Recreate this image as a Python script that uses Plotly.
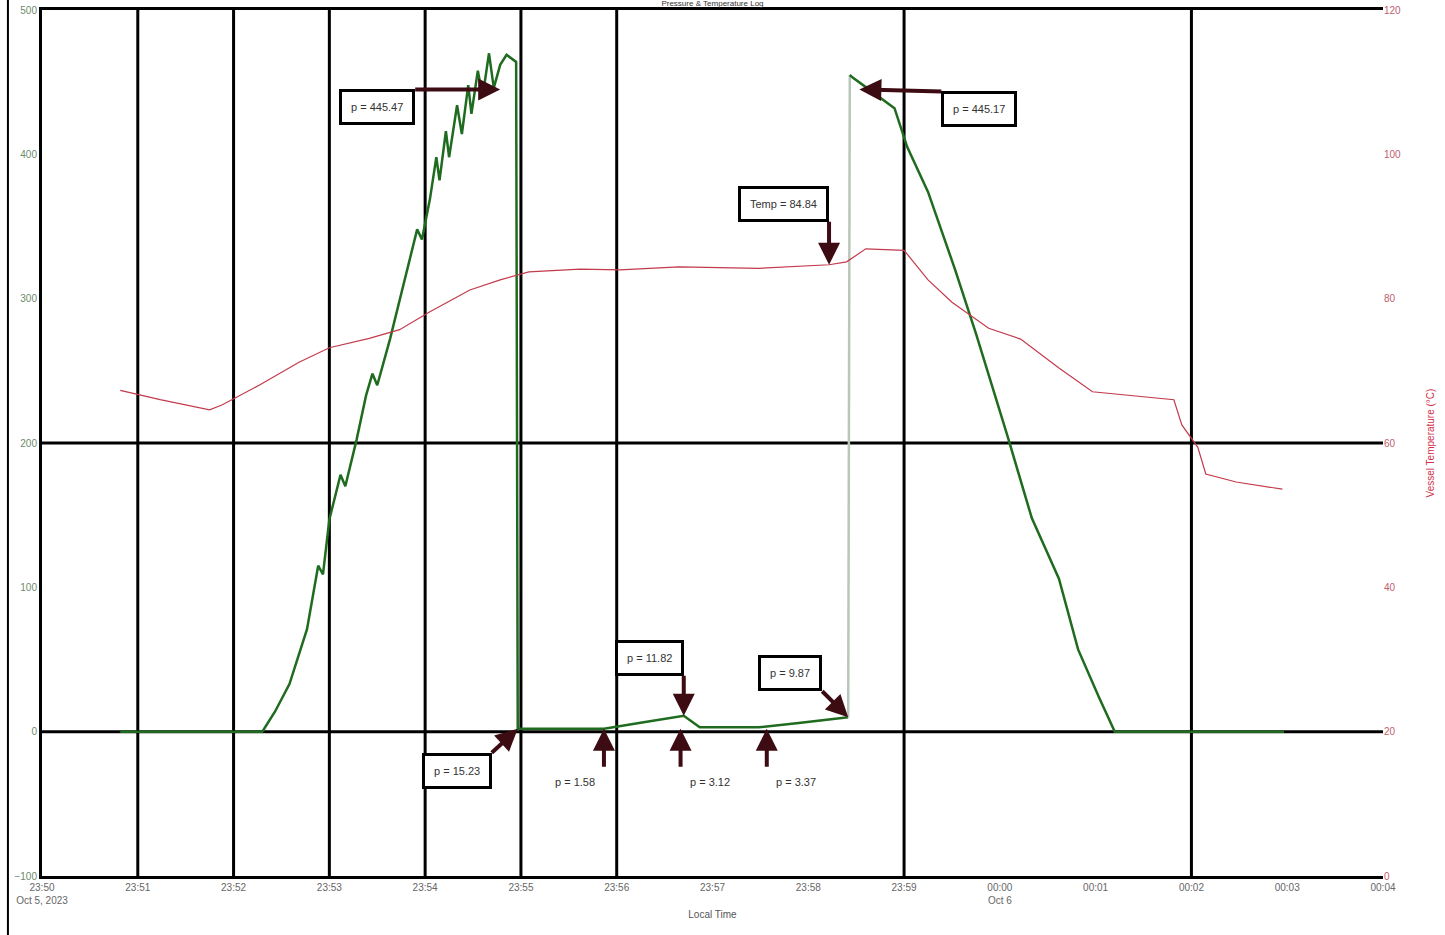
import plotly.graph_objects as go

# ---------------- data ----------------
press_time_a = [
    "2023-10-05 23:50:49", "2023-10-05 23:52:18", "2023-10-05 23:52:26", "2023-10-05 23:52:35",
    "2023-10-05 23:52:46", "2023-10-05 23:52:53", "2023-10-05 23:52:56", "2023-10-05 23:53:00",
    "2023-10-05 23:53:07", "2023-10-05 23:53:10", "2023-10-05 23:53:17", "2023-10-05 23:53:23",
    "2023-10-05 23:53:27", "2023-10-05 23:53:30", "2023-10-05 23:53:38", "2023-10-05 23:53:44",
    "2023-10-05 23:53:50", "2023-10-05 23:53:55", "2023-10-05 23:53:58", "2023-10-05 23:54:03",
    "2023-10-05 23:54:07", "2023-10-05 23:54:09", "2023-10-05 23:54:13", "2023-10-05 23:54:15",
    "2023-10-05 23:54:20", "2023-10-05 23:54:23", "2023-10-05 23:54:27", "2023-10-05 23:54:29",
    "2023-10-05 23:54:33", "2023-10-05 23:54:36", "2023-10-05 23:54:40", "2023-10-05 23:54:43",
    "2023-10-05 23:54:47", "2023-10-05 23:54:51", "2023-10-05 23:54:57", "2023-10-05 23:54:58",
    "2023-10-05 23:54:59", "2023-10-05 23:55:24", "2023-10-05 23:55:52", "2023-10-05 23:56:14",
    "2023-10-05 23:56:42", "2023-10-05 23:56:52", "2023-10-05 23:57:29", "2023-10-05 23:57:54",
    "2023-10-05 23:58:25",
]
press_val_a = [
    0, 0, 14, 33,
    71, 115, 109, 147,
    178, 170, 202, 233,
    248, 240, 272, 299,
    324, 348, 341, 369,
    398, 382, 416, 398,
    434, 414, 448, 428,
    458, 440, 470, 446,
    462, 469, 464, 2,
    2, 2, 2, 6,
    11, 3, 3, 6,
    10,
]

press_time_b = [
    "2023-10-05 23:58:26", "2023-10-05 23:58:28", "2023-10-05 23:58:38", "2023-10-05 23:58:54",
    "2023-10-05 23:59:02", "2023-10-05 23:59:15", "2023-10-05 23:59:32", "2023-10-05 23:59:45",
    "2023-10-06 00:00:05", "2023-10-06 00:00:20", "2023-10-06 00:00:37", "2023-10-06 00:00:49",
    "2023-10-06 00:01:02", "2023-10-06 00:01:12", "2023-10-06 00:02:58",
]
press_val_b = [455, 453, 445, 432, 405, 374, 320, 276, 204, 148, 106, 57, 24, 0, 0]

temp_time = [
    "2023-10-05 23:50:49", "2023-10-05 23:51:14", "2023-10-05 23:51:45", "2023-10-05 23:51:53",
    "2023-10-05 23:52:16", "2023-10-05 23:52:41", "2023-10-05 23:53:00", "2023-10-05 23:53:25",
    "2023-10-05 23:53:44", "2023-10-05 23:54:03", "2023-10-05 23:54:28", "2023-10-05 23:54:47",
    "2023-10-05 23:55:05", "2023-10-05 23:55:37", "2023-10-05 23:56:02", "2023-10-05 23:56:39",
    "2023-10-05 23:57:29", "2023-10-05 23:58:13", "2023-10-05 23:58:24", "2023-10-05 23:58:36",
    "2023-10-05 23:59:00", "2023-10-05 23:59:15", "2023-10-05 23:59:30", "2023-10-05 23:59:53",
    "2023-10-06 00:00:13", "2023-10-06 00:00:37", "2023-10-06 00:00:58", "2023-10-06 00:01:32",
    "2023-10-06 00:01:49", "2023-10-06 00:01:54", "2023-10-06 00:02:04", "2023-10-06 00:02:09",
    "2023-10-06 00:02:28", "2023-10-06 00:02:57",
]
temp_val = [
    67.3, 66.0, 64.6, 65.3, 68.0, 71.2, 73.2, 74.5, 75.7, 78.2, 81.2, 82.6,
    83.7, 84.1, 84.0, 84.4, 84.2, 84.7, 85.1, 86.9, 86.7, 82.6, 79.5, 75.9,
    74.4, 70.4, 67.1, 66.4, 66.0, 62.5, 59.4, 55.7, 54.6, 53.6,
]

tick_vals = [
    "2023-10-05 23:50", "2023-10-05 23:51", "2023-10-05 23:52", "2023-10-05 23:53",
    "2023-10-05 23:54", "2023-10-05 23:55", "2023-10-05 23:56", "2023-10-05 23:57",
    "2023-10-05 23:58", "2023-10-05 23:59", "2023-10-06 00:00", "2023-10-06 00:01",
    "2023-10-06 00:02", "2023-10-06 00:03", "2023-10-06 00:04",
]
tick_text = [
    "23:50<br>Oct 5, 2023", "23:51", "23:52", "23:53", "23:54", "23:55", "23:56", "23:57",
    "23:58", "23:59", "00:00<br>Oct 6", "00:01", "00:02", "00:03", "00:04",
]

marker_times = [
    "2023-10-05 23:51", "2023-10-05 23:52", "2023-10-05 23:53", "2023-10-05 23:54",
    "2023-10-05 23:55", "2023-10-05 23:56", "2023-10-05 23:59", "2023-10-06 00:02",
]
ref_levels = [0, 200]

# annotation readouts: (text, time, value, axis)
readouts = [
    ("p = 445.47", "2023-10-05 23:54:47", 445, "y"),
    ("Temp = 84.84", "2023-10-05 23:58:13", 84.7, "y2"),
    ("p = 445.17", "2023-10-05 23:58:32", 445, "y"),
    ("p = 11.82", "2023-10-05 23:56:42", 11, "y"),
    ("p = 9.87", "2023-10-05 23:58:25", 10, "y"),
    ("p = 15.23", "2023-10-05 23:54:58", 2, "y"),
    ("p = 1.58", "2023-10-05 23:55:52", 2, "y"),
    ("p = 3.12", "2023-10-05 23:56:40", 2, "y"),
    ("p = 3.37", "2023-10-05 23:57:34", 2, "y"),
]

# ---------------- figure ----------------
GREEN = "#1f6b1f"
RED = "#c23a4c"
ARROW = "#3d0b12"

fig = go.Figure()
fig.add_trace(go.Scatter(x=press_time_a, y=press_val_a, mode="lines",
                         line=dict(color=GREEN, width=2.5), name="Pressure"))
fig.add_trace(go.Scatter(x=[press_time_a[-1], press_time_b[0]],
                         y=[press_val_a[-1], press_val_b[0]], mode="lines",
                         line=dict(color="#b9c6b9", width=2.5), name="gap"))
fig.add_trace(go.Scatter(x=press_time_b, y=press_val_b, mode="lines",
                         line=dict(color=GREEN, width=2.5), name="Pressure"))
fig.add_trace(go.Scatter(x=temp_time, y=temp_val, mode="lines", yaxis="y2",
                         line=dict(color=RED, width=1.2), name="Temperature"))

shapes = []
for t in marker_times:
    shapes.append(dict(type="line", xref="x", yref="paper", x0=t, x1=t, y0=0, y1=1,
                       line=dict(color="black", width=3), layer="below"))
for v in ref_levels:
    shapes.append(dict(type="line", xref="paper", yref="y", x0=0, x1=1, y0=v, y1=v,
                       line=dict(color="black", width=3), layer="below"))
# page border line on the far left
shapes.append(dict(type="line", xref="paper", yref="paper", x0=-0.0254, x1=-0.0254,
                   y0=-0.07, y1=1.02, line=dict(color="black", width=2)))

# (ax, ay, xanchor, yanchor, bordered)
placement = [
    (-85, 0, "right", "top", True),
    (0, -43, "right", "bottom", True),
    (82, 2, "left", "top", True),
    (0, -40, "right", "bottom", True),
    (-26, -26, "right", "bottom", True),
    (-26, 24, "right", "top", True),
    (0, 38, "right", "top", False),
    (0, 38, "left", "top", False),
    (0, 38, "left", "top", False),
]
annotations = []
for (txt, t, v, ax_name), (ax, ay, xa, ya, bordered) in zip(readouts, placement):
    annotations.append(dict(
        x=t, y=v, xref="x", yref=ax_name, text=txt, showarrow=True,
        ax=ax, ay=ay, xanchor=xa, yanchor=ya,
        arrowhead=2, arrowsize=1.1, arrowwidth=4, arrowcolor=ARROW,
        font=dict(size=11, color="#333333", family="Liberation Sans, Arial"),
        bgcolor="white",
        bordercolor="black" if bordered else "rgba(0,0,0,0)",
        borderwidth=3 if bordered else 0, borderpad=9,
    ))

fig.update_layout(
    width=1445, height=935,
    margin=dict(l=42, r=62, t=10, b=59, autoexpand=False),
    paper_bgcolor="white", plot_bgcolor="white",
    showlegend=False,
    font=dict(family="Liberation Sans, Arial", size=10, color="#555555"),
    title=dict(text="Pressure &amp; Temperature Log", x=0.5, xref="paper",
               y=1.0, yref="container", yanchor="top", pad=dict(t=0),
               font=dict(size=8, color="#333333")),
    xaxis=dict(type="date", range=["2023-10-05 23:50:00", "2023-10-06 00:04:00"],
               tickvals=tick_vals, ticktext=tick_text, showgrid=False, zeroline=False,
               showline=True, linecolor="black", linewidth=3, mirror=True, automargin=False,
               tickfont=dict(size=10, color="#666666"),
               title=dict(text="Local Time", font=dict(size=10, color="#555555"), standoff=6)),
    yaxis=dict(range=[-100, 500], dtick=100, showgrid=False, zeroline=False,
               showline=True, linecolor="black", linewidth=3, automargin=False,
               tickfont=dict(size=10, color="#6d8a6d")),
    yaxis2=dict(range=[0, 120], dtick=20, overlaying="y", side="right",
                showgrid=False, zeroline=False, showline=False, automargin=False,
                tickfont=dict(size=10, color="#c06070"),
                title=dict(text="Vessel Temperature (°C)", font=dict(size=10, color="#d0304a"),
                           standoff=26)),
    shapes=shapes,
    annotations=annotations,
)

fig.write_html("out.html",
               config={"displayModeBar": False},
               post_script="document.body.style.margin='0px';document.body.style.overflow='hidden';")
